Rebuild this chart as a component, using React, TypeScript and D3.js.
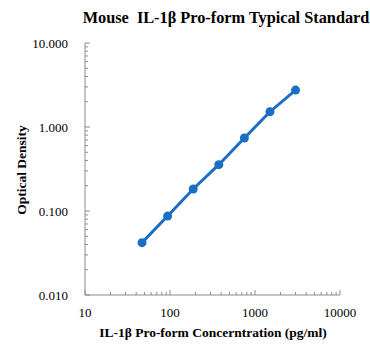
import React from "react";
import * as d3 from "d3";

const concentrations = [46.875, 93.75, 187.5, 375, 750, 1500, 3000];
const odValues = [0.042, 0.087, 0.183, 0.356, 0.74, 1.52, 2.75];
const xTicks = [10, 100, 1000, 10000];
const yTicks = [0.01, 0.1, 1, 10];

export default function App() {
  const W = 370, H = 353;
  const x = d3.scaleLog().domain([10, 10000]).range([85, 340]);
  const y = d3.scaleLog().domain([0.01, 10]).range([295, 43]);
  const color = "#1a6fc4";
  const axisColor = "#8c8c8c";
  const font = "'Liberation Serif', 'Times New Roman', Times, serif";
  const line = d3.line<number>().x((d, i) => x(concentrations[i])).y((d) => y(d));

  const xMinor: number[] = [];
  for (let e = 1; e < 4; e++) for (let m = 2; m <= 9; m++) xMinor.push(m * Math.pow(10, e));
  const yMinor: number[] = [];
  for (let e = -2; e < 1; e++) for (let m = 2; m <= 9; m++) yMinor.push(m * Math.pow(10, e));

  return (
    <svg width={W} height={H} style={{ position: "absolute", left: 0, top: 0, fontFamily: font }}>
      <rect width={W} height={H} fill="#fff" />
      <text x={226} y={23} textAnchor="middle" fontWeight="bold" fontSize={16.3} style={{ whiteSpace: "pre", fontFamily: font }}>
        {"Mouse  IL-1β Pro-form Typical Standard"}
      </text>
      <line x1={85} x2={85} y1={y(10)} y2={y(0.01)} stroke={axisColor} strokeWidth={1} />
      <line x1={85} x2={340} y1={295} y2={295} stroke={axisColor} strokeWidth={1} />
      {yTicks.map((t) => (
        <g key={"y" + t}>
          <line x1={85} x2={90} y1={y(t)} y2={y(t)} stroke={axisColor} />
          <text x={68} y={y(t) + 4.5} textAnchor="end" fontSize={13} style={{ fontFamily: font }}>
            {t.toFixed(3)}
          </text>
        </g>
      ))}
      {yMinor.map((t) => (
        <line key={"ym" + t} x1={85} x2={88} y1={y(t)} y2={y(t)} stroke={axisColor} />
      ))}
      {xTicks.map((t) => (
        <g key={"x" + t}>
          <line x1={x(t)} x2={x(t)} y1={295} y2={290} stroke={axisColor} />
          <text x={x(t)} y={316.5} textAnchor="middle" fontSize={13} style={{ fontFamily: font }}>
            {t}
          </text>
        </g>
      ))}
      {xMinor.map((t) => (
        <line key={"xm" + t} x1={x(t)} x2={x(t)} y1={295} y2={292} stroke={axisColor} />
      ))}
      <text
        transform={`translate(26,170) rotate(-90)`}
        textAnchor="middle"
        fontWeight="bold"
        fontSize={13.5}
        style={{ fontFamily: font }}
      >
        Optical Density
      </text>
      <text x={213} y={337} textAnchor="middle" fontWeight="bold" fontSize={13.5} style={{ fontFamily: font }}>
        IL-1β Pro-form Concerntration (pg/ml)
      </text>
      <path d={line(odValues) || ""} fill="none" stroke={color} strokeWidth={3} />
      {odValues.map((v, i) => (
        <circle key={i} cx={x(concentrations[i])} cy={y(v)} r={4.5} fill={color} />
      ))}
    </svg>
  );
}
